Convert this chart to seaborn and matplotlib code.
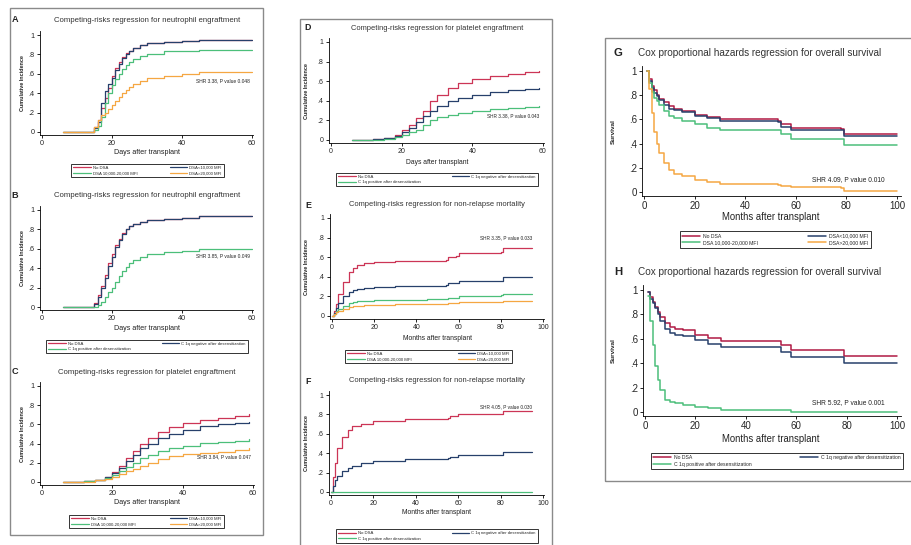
import matplotlib
matplotlib.use("Agg")
import matplotlib.pyplot as plt
from matplotlib.lines import Line2D
from matplotlib.patches import Rectangle
import pandas as pd
import seaborn as sns

W, H = 911, 545

# ---------------- data ----------------
GROUPS4 = ["No DSA", "DSA<10,000 MFI", "DSA 10,000-20,000 MFI", "DSA>20,000 MFI"]
GROUPS3 = ["No DSA", "C 1q negative after desensitization", "C 1q positive after desensitization"]

# A: neutrophil engraftment, 4 DSA groups (days)
A_days = [6, 13, 15, 16, 17, 18, 19, 20, 21, 22, 23, 24, 25, 26, 28, 30, 35, 40, 45, 60]
A_nodsa = [0, 0, 0.05, 0.12, 0.25, 0.35, 0.45, 0.58, 0.66, 0.72, 0.77, 0.81, 0.84, 0.87, 0.90, 0.92, 0.93, 0.94, 0.95, 0.95]
A_low = [0, 0, 0.04, 0.10, 0.30, 0.42, 0.50, 0.56, 0.64, 0.70, 0.76, 0.80, 0.84, 0.87, 0.90, 0.92, 0.93, 0.94, 0.95, 0.95]
A_mid = [0, 0, 0.02, 0.06, 0.15, 0.30, 0.40, 0.48, 0.55, 0.60, 0.65, 0.69, 0.72, 0.75, 0.78, 0.80, 0.83, 0.84, 0.85, 0.85]
A_high = [0, 0, 0.05, 0.12, 0.18, 0.20, 0.24, 0.28, 0.32, 0.36, 0.40, 0.43, 0.46, 0.50, 0.53, 0.56, 0.58, 0.60, 0.62, 0.62]

# B: neutrophil engraftment, C1q groups
B_days = [6, 13, 15, 16, 17, 18, 19, 20, 21, 22, 23, 24, 25, 26, 28, 30, 35, 40, 45, 60]
B_nodsa = [0, 0, 0.04, 0.12, 0.22, 0.33, 0.45, 0.55, 0.64, 0.70, 0.76, 0.80, 0.84, 0.86, 0.88, 0.90, 0.91, 0.92, 0.94, 0.94]
B_neg = [0, 0, 0.03, 0.10, 0.20, 0.30, 0.42, 0.52, 0.62, 0.69, 0.75, 0.80, 0.83, 0.86, 0.88, 0.90, 0.91, 0.92, 0.94, 0.94]
B_pos = [0, 0, 0, 0.02, 0.05, 0.10, 0.15, 0.20, 0.26, 0.32, 0.37, 0.41, 0.45, 0.48, 0.52, 0.55, 0.57, 0.58, 0.60, 0.60]

# C: platelet engraftment, 4 DSA groups
C_days = [6, 12, 15, 18, 20, 22, 24, 26, 28, 30, 33, 36, 40, 45, 50, 55, 59]
C_nodsa = [0, 0.01, 0.02, 0.05, 0.10, 0.17, 0.25, 0.32, 0.40, 0.46, 0.52, 0.57, 0.61, 0.65, 0.67, 0.69, 0.71]
C_low = [0, 0.01, 0.02, 0.05, 0.09, 0.15, 0.22, 0.28, 0.35, 0.40, 0.46, 0.50, 0.54, 0.58, 0.60, 0.61, 0.62]
C_mid = [0, 0.01, 0.02, 0.04, 0.07, 0.11, 0.16, 0.20, 0.25, 0.28, 0.32, 0.35, 0.38, 0.41, 0.42, 0.43, 0.45]
C_high = [0, 0, 0.02, 0.03, 0.05, 0.08, 0.11, 0.14, 0.17, 0.20, 0.24, 0.27, 0.29, 0.30, 0.31, 0.33, 0.35]

# D: platelet engraftment, C1q groups
D_days = [6, 12, 15, 18, 20, 22, 24, 26, 28, 30, 33, 36, 40, 45, 50, 55, 59]
D_nodsa = [0, 0.01, 0.02, 0.05, 0.10, 0.15, 0.22, 0.30, 0.40, 0.46, 0.53, 0.58, 0.62, 0.65, 0.67, 0.69, 0.70]
D_neg = [0, 0.01, 0.02, 0.04, 0.08, 0.12, 0.18, 0.25, 0.30, 0.35, 0.40, 0.43, 0.46, 0.49, 0.51, 0.52, 0.53]
D_pos = [0, 0, 0.01, 0.03, 0.05, 0.08, 0.10, 0.15, 0.20, 0.23, 0.26, 0.28, 0.30, 0.32, 0.33, 0.34, 0.35]

# E: non-relapse mortality, 4 DSA groups (months)
E_months = [0, 1, 2, 3, 5, 8, 10, 12, 15, 20, 30, 45, 54, 55, 59, 60, 80, 81, 95]
E_nodsa = [0, 0.05, 0.12, 0.22, 0.35, 0.45, 0.49, 0.52, 0.54, 0.55, 0.56, 0.56, 0.57, 0.60, 0.61, 0.64, 0.65, 0.69, 0.69]
E_low = [0, 0.03, 0.08, 0.13, 0.20, 0.25, 0.27, 0.28, 0.29, 0.30, 0.31, 0.31, 0.32, 0.34, 0.34, 0.36, 0.36, 0.40, 0.40]
E_mid = [0, 0.02, 0.05, 0.07, 0.10, 0.13, 0.14, 0.15, 0.15, 0.16, 0.16, 0.17, 0.17, 0.18, 0.18, 0.20, 0.21, 0.22, 0.22]
E_high = [0, 0.02, 0.04, 0.05, 0.07, 0.09, 0.10, 0.10, 0.11, 0.11, 0.12, 0.12, 0.12, 0.13, 0.13, 0.14, 0.14, 0.15, 0.15]

# F: non-relapse mortality, C1q groups
F_months = [0, 1, 2, 3, 5, 8, 10, 14, 20, 35, 55, 56, 60, 80, 81, 95]
F_nodsa = [0, 0.15, 0.30, 0.45, 0.57, 0.64, 0.68, 0.70, 0.73, 0.75, 0.76, 0.78, 0.80, 0.80, 0.83, 0.83]
F_neg = [0, 0.06, 0.12, 0.17, 0.22, 0.25, 0.27, 0.30, 0.32, 0.34, 0.35, 0.36, 0.38, 0.38, 0.41, 0.41]
F_pos = [0, 0, 0, 0, 0, 0, 0, 0, 0, 0, 0, 0, 0, 0, 0, 0]

# G: overall survival, 4 DSA groups
G_months = [1, 2, 3, 4, 5, 6, 8, 10, 12, 15, 20, 25, 30, 53, 54, 58, 78, 79, 100]
G_nodsa = [1, 0.93, 0.88, 0.84, 0.80, 0.77, 0.74, 0.71, 0.69, 0.67, 0.64, 0.62, 0.60, 0.59, 0.56, 0.53, 0.52, 0.48, 0.48]
G_low = [1, 0.92, 0.86, 0.82, 0.79, 0.76, 0.72, 0.69, 0.68, 0.66, 0.63, 0.61, 0.59, 0.58, 0.54, 0.51, 0.51, 0.46, 0.46]
G_mid = [1, 0.90, 0.83, 0.78, 0.75, 0.72, 0.67, 0.63, 0.61, 0.59, 0.56, 0.53, 0.51, 0.51, 0.48, 0.44, 0.44, 0.39, 0.39]
G_high = [1, 0.85, 0.65, 0.50, 0.40, 0.32, 0.24, 0.18, 0.15, 0.13, 0.10, 0.08, 0.07, 0.06, 0.05, 0.04, 0.03, 0.01, 0.01]

# H: overall survival, C1q groups
H_months = [1, 2, 3, 4, 5, 6, 8, 10, 12, 15, 20, 25, 30, 53, 54, 58, 78, 79, 100]
H_nodsa = [0.98, 0.94, 0.90, 0.86, 0.82, 0.78, 0.73, 0.70, 0.68, 0.67, 0.63, 0.61, 0.58, 0.58, 0.55, 0.51, 0.51, 0.46, 0.46]
H_neg = [0.98, 0.93, 0.89, 0.85, 0.80, 0.75, 0.68, 0.65, 0.63, 0.62, 0.59, 0.56, 0.53, 0.53, 0.49, 0.45, 0.45, 0.40, 0.40]
H_pos = [0.95, 0.75, 0.55, 0.38, 0.26, 0.18, 0.10, 0.08, 0.07, 0.06, 0.04, 0.03, 0.02, 0.02, 0.02, 0, 0, 0, 0]

SHR = {
    "A": "SHR 3.38, P value 0.048", "B": "SHR 3.85, P value 0.049",
    "C": "SHR 3.84, P value 0.047", "D": "SHR 3.38, P value 0.043",
    "E": "SHR 3.35, P value 0.033", "F": "SHR 4.05, P value 0.030",
    "G": "SHR 4.09, P value 0.010", "H": "SHR 5.92, P value 0.001",
}

# ---------------- style ----------------
sns.set_theme(style="ticks")
plt.rcParams["font.family"] = ["Liberation Sans", "DejaVu Sans"]

RED, NAVY, GREEN, ORANGE = "#cc3556", "#27406b", "#4cbf7a", "#f5a742"
RED_DK = "#b01a44"

fig = plt.figure(figsize=(W / 100, H / 100), dpi=100)


def fx(px):
    return px / W


def fy(py):
    return 1 - py / H


def make_panel(x0, x1, xmax, y0, y1, xlim, ylim=(-0.03, 1.04)):
    # x0/x1: pixel of 0 and xmax ; y0/y1: pixel of 0 and 1
    sx = (x1 - x0) / xmax
    sy = y0 - y1
    left, right = x0 + xlim[0] * sx, x0 + xlim[1] * sx
    bottom, top = y0 - ylim[0] * sy, y0 - ylim[1] * sy
    ax = fig.add_axes([fx(left), fy(bottom), (right - left) / W, (bottom - top) / H])
    ax.set_xlim(xlim)
    ax.set_ylim(ylim)
    return ax


def draw(ax, t, series, lw):
    for vals, color in series:
        df = pd.DataFrame({"t": t, "v": vals})
        sns.lineplot(data=df, x="t", y="v", ax=ax, color=color, lw=lw,
                     drawstyle="steps-post", estimator=None, legend=False)


def style(ax, xticks, fs):
    sns.despine(ax=ax)
    ax.set_facecolor("none")
    ax.set_xticks(xticks)
    ax.set_yticks([0, .2, .4, .6, .8, 1])
    ax.set_yticklabels(["0", ".2", ".4", ".6", ".8", "1"])
    ax.tick_params(labelsize=fs, length=2.5, width=0.6, pad=1.5, color="black")
    for s in ("left", "bottom"):
        ax.spines[s].set_linewidth(0.6)
        ax.spines[s].set_color("black")
    ax.set_xlabel("")
    ax.set_ylabel("")


def add_legend(labels, colors, box, fs, lw, hl):
    x0, y0, x1, y1 = box
    handles = [Line2D([], [], color=c, lw=lw) for c in colors]
    if len(labels) == 4:
        order = [0, 2, 1, 3]
    else:
        order = [0, 2, 1]
    leg = fig.legend([handles[i] for i in order], [labels[i] for i in order],
                     ncol=2, loc="center", mode="expand",
                     bbox_to_anchor=(fx(x0), fy(y1), (x1 - x0) / W, (y1 - y0) / H),
                     bbox_transform=fig.transFigure, fontsize=fs, frameon=True,
                     fancybox=False, borderpad=0.5, labelspacing=0.3,
                     handlelength=hl, handletextpad=0.6, columnspacing=1.0)
    leg.get_frame().set_edgecolor("black")
    leg.get_frame().set_linewidth(0.7)


# column frames
for (x0, y0, x1, y1) in [(10, 8, 263, 535), (300, 19, 552, 560), (605, 38, 935, 481)]:
    fig.add_artist(Rectangle((fx(x0), fy(y1)), (x1 - x0) / W, (y1 - y0) / H,
                             transform=fig.transFigure, fill=False,
                             edgecolor="#8a8a8a", lw=1.0))

c4 = [RED, NAVY, GREEN, ORANGE]
c3 = [RED, NAVY, GREEN]

# layout: letter, data, pixel frame, text positions
panels = [
    dict(key="A", t=A_days, ys=[A_nodsa, A_low, A_mid, A_high], cols=c4, labs=GROUPS4,
         x0=42, x1=252, xmax=60, y0=132, y1=35, xlim=(-0.6, 60.3), xt=[0, 20, 40, 60],
         title="Competing-risks regression for neutrophil engraftment", ty=20, tx=147,
         lx=15, ylx=22, xl="Days after transplant", xly=152, leg=(69, 162, 226, 179),
         shr=(59.5, 0.53), fs=5.2, tfs=5.6, lfs=3.1, lw=0.9, hl=4.0, ylfs=3.9),
    dict(key="B", t=B_days, ys=[B_nodsa, B_neg, B_pos], cols=c3, labs=GROUPS3,
         x0=42, x1=252, xmax=60, y0=307, y1=210, xlim=(-0.6, 60.3), xt=[0, 20, 40, 60],
         title="Competing-risks regression for neutrophil engraftment", ty=195, tx=147,
         lx=15, ylx=22, xl="Days after transplant", xly=328, leg=(44, 337, 250, 356),
         shr=(59.5, 0.53), fs=5.2, tfs=5.6, lfs=3.1, lw=0.9, hl=4.0, ylfs=3.9),
    dict(key="C", t=C_days, ys=[C_nodsa, C_low, C_mid, C_high], cols=c4, labs=GROUPS4,
         x0=42, x1=253, xmax=60, y0=482, y1=386, xlim=(-0.6, 60.3), xt=[0, 20, 40, 60],
         title="Competing-risks regression for platelet engraftment", ty=372, tx=147,
         lx=15, ylx=22, xl="Days after transplant", xly=503, leg=(67, 513, 226, 530),
         shr=(59.5, 0.26), fs=5.2, tfs=5.6, lfs=3.1, lw=0.9, hl=4.0, ylfs=3.9),
    dict(key="D", t=D_days, ys=[D_nodsa, D_neg, D_pos], cols=c3, labs=GROUPS3,
         x0=331, x1=543, xmax=60, y0=140, y1=42, xlim=(-0.6, 60.3), xt=[0, 20, 40, 60],
         title="Competing-risks regression for platelet engraftment", ty=28, tx=437,
         lx=308, ylx=306, xl="Days after transplant", xly=162, leg=(334, 170, 540, 189),
         shr=(59, 0.25), fs=5.0, tfs=5.4, lfs=3.1, lw=0.9, hl=4.0, ylfs=3.9),
    dict(key="E", t=E_months, ys=[E_nodsa, E_low, E_mid, E_high], cols=c4, labs=GROUPS4,
         x0=332, x1=543, xmax=100, y0=316, y1=218, xlim=(-1, 100.5), xt=[0, 20, 40, 60, 80, 100],
         title="Competing-risks regression for non-relapse mortality", ty=205, tx=437,
         lx=308, ylx=306, xl="Months after transplant", xly=338, leg=(343, 348, 514, 365),
         shr=(95, 0.8), fs=5.0, tfs=5.4, lfs=3.1, lw=0.9, hl=4.0, ylfs=3.9),
    dict(key="F", t=F_months, ys=[F_nodsa, F_neg, F_pos], cols=c3, labs=GROUPS3,
         x0=331, x1=543, xmax=100, y0=492, y1=395, xlim=(-1, 100.5), xt=[0, 20, 40, 60, 80, 100],
         title="Competing-risks regression for non-relapse mortality", ty=381, tx=437,
         lx=308, ylx=306, xl="Months after transplant", xly=512, leg=(334, 523, 540, 549),
         shr=(95, 0.88), fs=5.0, tfs=5.4, lfs=3.1, lw=0.9, hl=4.0, ylfs=3.9),
    dict(key="G", t=G_months, ys=[G_nodsa, G_low, G_mid, G_high],
         cols=[RED_DK, NAVY, GREEN, ORANGE], labs=GROUPS4,
         x0=644, x1=897, xmax=100, y0=192, y1=71, xlim=(-0.6, 101.5), xt=[0, 20, 40, 60, 80, 100],
         title="Cox proportional hazards regression for overall survival", ty=53, tx=760,
         lx=618, ylx=613, xl="Months after transplant", xly=217, leg=(677, 229, 874, 250),
         shr=(95, 0.1), fs=7.0, tfs=7.2, lfs=3.7, lw=1.1, hl=3.5, ylfs=4.6),
    dict(key="H", t=H_months, ys=[H_nodsa, H_neg, H_pos],
         cols=[RED_DK, NAVY, GREEN], labs=GROUPS3,
         x0=645, x1=897, xmax=100, y0=412, y1=290, xlim=(-0.6, 101.5), xt=[0, 20, 40, 60, 80, 100],
         title="Cox proportional hazards regression for overall survival", ty=272, tx=760,
         lx=618, ylx=613, xl="Months after transplant", xly=439, leg=(648, 450, 906, 472),
         shr=(95, 0.08), fs=7.0, tfs=7.2, lfs=3.7, lw=1.1, hl=3.5, ylfs=4.6),
]

for p in panels:
    ax = make_panel(p["x0"], p["x1"], p["xmax"], p["y0"], p["y1"], p["xlim"])
    draw(ax, p["t"], list(zip(p["ys"], p["cols"])), p["lw"])
    style(ax, p["xt"], p["fs"])
    ax.text(p["shr"][0], p["shr"][1], SHR[p["key"]], ha="right", va="center",
            fontsize=p["fs"] * 0.68, color="#222222")
    fig.text(fx(p["tx"]), fy(p["ty"]), p["title"], ha="center", va="center",
             fontsize=p["tfs"], color="#333333")
    fig.text(fx(p["lx"]), fy(p["ty"]), p["key"], ha="center", va="center",
             fontsize=p["tfs"] + 1, fontweight="bold", color="#222222")
    ylab = "Survival" if p["key"] in ("G", "H") else "Cumulative Incidence"
    fig.text(fx(p["ylx"]), fy((p["y0"] + p["y1"]) / 2), ylab, rotation=90,
             ha="center", va="center", fontsize=p["ylfs"], fontweight="bold",
             color="#222222")
    fig.text(fx((p["x0"] + p["x1"]) / 2), fy(p["xly"]), p["xl"], ha="center",
             va="center", fontsize=p["fs"] * 0.98, color="#222222")
    add_legend(p["labs"], p["cols"], p["leg"], p["lfs"], p["lw"], p["hl"])

fig.savefig("out.png", dpi=100, facecolor="white")
